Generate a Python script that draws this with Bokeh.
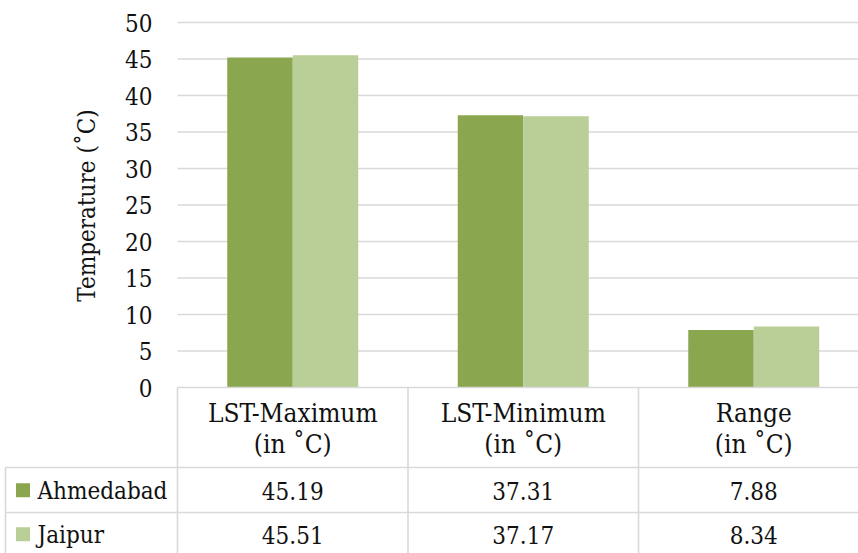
import math
from bokeh.plotting import figure
from bokeh.models import Range1d
from bokeh.core.properties import value
from bokeh.embed import file_html
from bokeh.resources import INLINE

# ---- data ----
categories = ["LST-Maximum\n(in ˚C)", "LST-Minimum\n(in ˚C)", "Range\n(in ˚C)"]
series_names = ["Ahmedabad", "Jaipur"]
ahmedabad = [45.19, 37.31, 7.88]
jaipur = [45.51, 37.17, 8.34]
y_ticks = [0, 5, 10, 15, 20, 25, 30, 35, 40, 45, 50]
y_tick_labels = ["0", "5", "10", "15", "20", "25", "30", "35", "40", "45", "50"]
y_title = "Temperature (˚C)"

# ---- layout (pixels) ----
W, H = 858, 553
PLOT_LEFT = 177.0      # left edge of the category area
CAT_W = 230.5          # width of one category column
Y0_PX = 387.0          # pixel row of value 0
PX_PER_UNIT = 7.3      # pixels per degree
BAR_W = 65.5 / CAT_W   # bar width in category units

def xd(px):
    return (px - PLOT_LEFT) / CAT_W

def yd(py):
    return (Y0_PX - py) / PX_PER_UNIT

FONT = value("DejaVu Serif Condensed")
FS_TICK = "24px"
FS_TITLE = "24px"
FS_HEAD = "26px"
FS_CELL = "24px"
TXT = "#111111"
GRID = "#d9d9d9"
COLORS = ["#8aa64f", "#bacf97"]

p = figure(width=W, height=H,
           x_range=Range1d(xd(0), xd(W)), y_range=Range1d(yd(H), yd(0)),
           output_backend="svg", toolbar_location=None, min_border=0)
p.axis.visible = False
p.grid.visible = False
p.outline_line_color = None
p.background_fill_color = "white"
p.border_fill_color = "white"

n = len(categories)
x_right = xd(W)

# horizontal gridlines
p.segment(x0=[0] * (len(y_ticks) - 1), x1=[x_right] * (len(y_ticks) - 1),
          y0=y_ticks[1:], y1=y_ticks[1:], line_color=GRID, line_width=1.6)

# bars
centers = [i + 0.5 for i in range(n)]
for k, vals in enumerate([ahmedabad, jaipur]):
    xs = [c + (k - 0.5) * BAR_W for c in centers]
    p.vbar(x=xs, width=BAR_W, top=vals, bottom=0,
           fill_color=COLORS[k], line_color=None)

# y tick labels
p.text(x=[xd(152)] * len(y_ticks), y=y_ticks, text=y_tick_labels,
       text_font=FONT, text_font_size=FS_TICK, text_color=TXT,
       text_align="right", text_baseline="middle")

# y axis title
p.text(x=[xd(86)], y=[yd(205)], text=[y_title], angle=math.pi / 2,
       text_font=FONT, text_font_size=FS_TITLE, text_color=TXT,
       text_align="center", text_baseline="middle")

# ---- data table ----
y_bottom = yd(H)
row_tops = [yd(467), yd(512)]
# table top (category axis line)
p.segment(x0=[0], x1=[x_right], y0=[0], y1=[0], line_color=GRID, line_width=1.6)
# row separators
p.segment(x0=[xd(5)] * 2, x1=[x_right] * 2, y0=row_tops, y1=row_tops,
          line_color=GRID, line_width=1.6)
# column separators
p.segment(x0=list(range(n)), x1=list(range(n)), y0=[0] * n, y1=[y_bottom] * n,
          line_color=GRID, line_width=1.6)
p.segment(x0=[xd(5)], x1=[xd(5)], y0=[row_tops[0]], y1=[y_bottom],
          line_color=GRID, line_width=1.6)

# header labels (two lines)
line1 = [c.split("\n")[0] for c in categories]
line2 = [c.split("\n")[1] for c in categories]
p.text(x=centers, y=[yd(412)] * n, text=line1, text_font=FONT, text_font_size=FS_HEAD,
       text_color=TXT, text_align="center", text_baseline="middle")
p.text(x=centers, y=[yd(443)] * n, text=line2, text_font=FONT, text_font_size=FS_HEAD,
       text_color=TXT, text_align="center", text_baseline="middle")

# rows: legend key, name, values
row_mid = [yd(490), yd(534)]
for k, (name, vals) in enumerate(zip(series_names, [ahmedabad, jaipur])):
    p.rect(x=[xd(22.5)], y=[row_mid[k] + 0.05], width=14, height=14,
           width_units="screen", height_units="screen",
           fill_color=COLORS[k], line_color=None)
    p.text(x=[xd(37)], y=[row_mid[k]], text=[name], text_font=FONT,
           text_font_size=FS_CELL, text_color=TXT, text_align="left",
           text_baseline="middle")
    p.text(x=centers, y=[row_mid[k]] * n, text=["%.2f" % v for v in vals],
           text_font=FONT, text_font_size=FS_CELL, text_color=TXT,
           text_align="center", text_baseline="middle")

open("out.html", "w").write(file_html(p, INLINE))
